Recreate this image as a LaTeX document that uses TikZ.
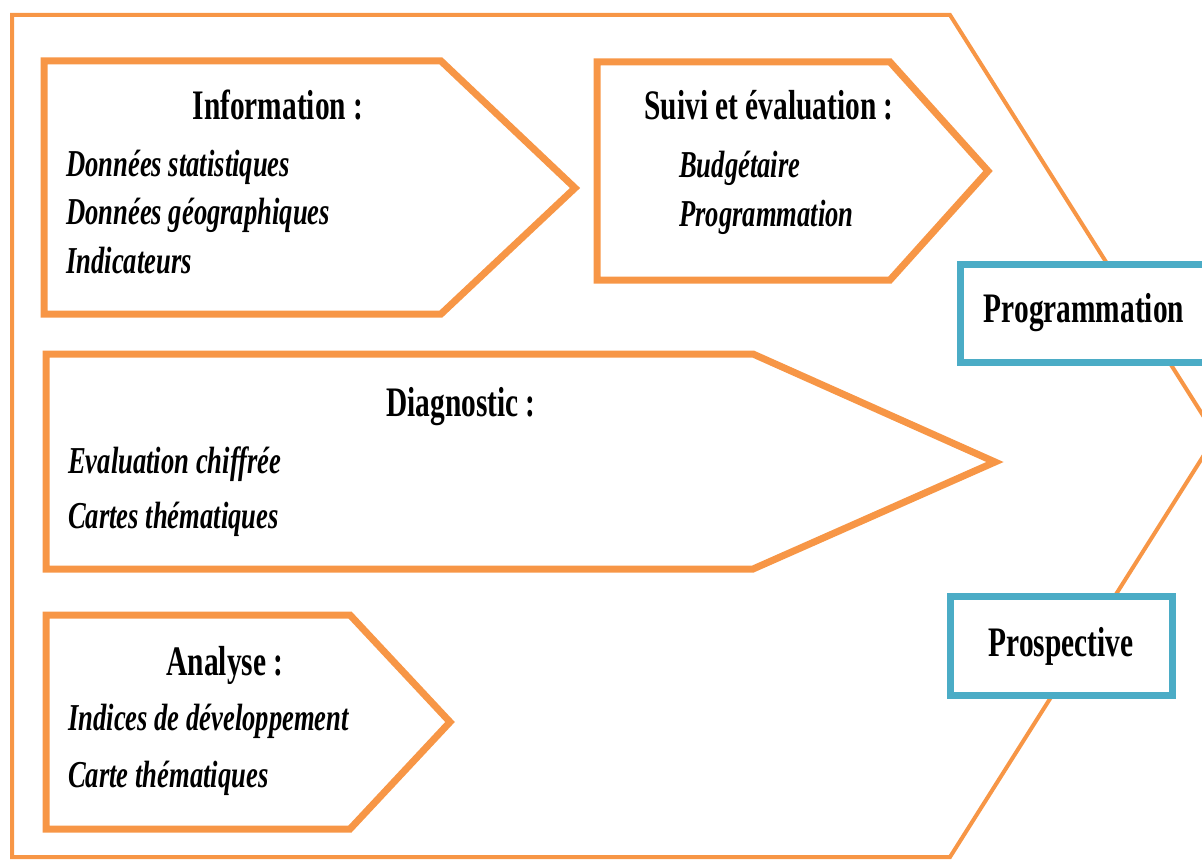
\documentclass[tikz,border=0pt]{standalone}
\usepackage{fontspec}
\setmainfont[FakeStretch=0.7]{Liberation Serif}
\usetikzlibrary{positioning}
\definecolor{orangeline}{HTML}{F79646}
\definecolor{blueline}{HTML}{4BACC6}

\begin{document}
\begin{tikzpicture}[x=1pt,y=-1pt,line join=miter,
	frame/.style={draw=orangeline,line width=4pt},
	chevron/.style={draw=orangeline,line width=7pt},
	title/.style={font=\fontsize{42}{48}\selectfont\bfseries,anchor=base,inner sep=0pt},
	item/.style={font=\fontsize{38}{44}\selectfont\bfseries\itshape,anchor=base west,inner sep=0pt},
	tag/.style={draw=blueline,line width=7pt,fill=white,inner sep=0pt,font=\fontsize{42}{48}\selectfont\bfseries}]
		\useasboundingbox (0,0) rectangle (1202,861);
		\clip (0,0) rectangle (1202,861);
		% outer arrow
		\draw[frame] (12,15) -- (950,15) -- (1216,436) -- (950,857) -- (12,857) -- cycle;
		% inner arrows
		\draw[chevron] (44,61) -- (441,61) -- (575,188) -- (441,314) -- (44,314) -- cycle;
		\draw[chevron] (597,62) -- (890,62) -- (988,171) -- (890,280) -- (597,280) -- cycle;
		\draw[chevron] (46,354) -- (753,354) -- (995,462) -- (753,569) -- (46,569) -- cycle;
		\draw[chevron] (46,615) -- (350,615) -- (450,722) -- (350,829) -- (46,829) -- cycle;
		% texts
		\node[title] (info) at (278,120) {Information :};
		\node[item] (info1) at (66,177) {Données statistiques};
		\node[item] (info2) at ([yshift=-48pt]info1.base west) {Données géographiques};
		\node[item] (info3) at ([yshift=-48pt]info2.base west) {Indicateurs};
		\node[title] (suivi) at (769,120) {Suivi et évaluation :};
		\node[item] (suivi1) at (679,178) {Budgétaire};
		\node[item] (suivi2) at ([yshift=-48pt]suivi1.base west) {Programmation};
		\node[title] (diag) at (461,416) {Diagnostic :};
		\node[item] (diag1) at (68,473) {Evaluation chiffrée};
		\node[item] (diag2) at ([yshift=-55pt]diag1.base west) {Cartes thématiques};
		\node[title] (ana) at (225,675) {Analyse :};
		\node[item] (ana1) at (68,730) {Indices de développement};
		\node[item] (ana2) at ([yshift=-57pt]ana1.base west) {Carte thématiques};
		% outcomes
		\node[tag,minimum width=248pt,minimum height=98pt] (prog) at (1084,313) {Programmation};
		\node[tag,minimum width=222pt,minimum height=99pt] (prosp) at (1061,646) {Prospective};
	\end{tikzpicture}
\end{document}
